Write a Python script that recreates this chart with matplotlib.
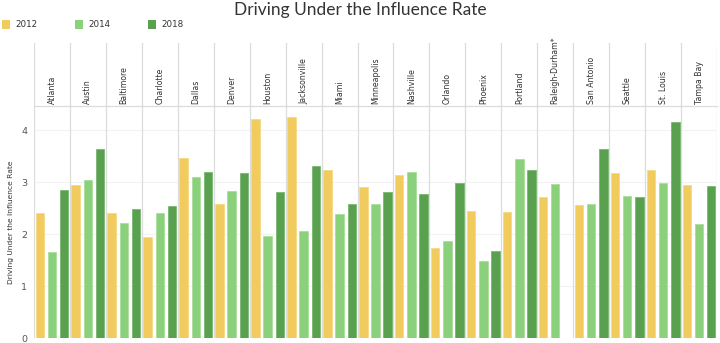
import matplotlib
matplotlib.use("Agg")
import matplotlib.pyplot as plt
import numpy as np

cities = ["Atlanta", "Austin", "Baltimore", "Charlotte", "Dallas", "Denver",
          "Houston", "Jacksonville", "Miami", "Minneapolis", "Nashville",
          "Orlando", "Phoenix", "Portland", "Raleigh-Durham*", "San Antonio",
          "Seattle", "St. Louis", "Tampa Bay"]
years = ["2012", "2014", "2018"]
rate_2012 = [2.40, 2.95, 2.40, 1.94, 3.47, 2.58, 4.22, 4.26, 3.24, 2.90,
             3.14, 1.73, 2.45, 2.42, 2.71, 2.56, 3.17, 3.24, 2.95]
rate_2014 = [1.66, 3.05, 2.21, 2.40, 3.10, 2.83, 1.96, 2.06, 2.38, 2.58,
             3.20, 1.86, 1.48, 3.44, 2.97, 2.58, 2.73, 2.98, 2.20]
rate_2018 = [2.85, 3.64, 2.49, 2.55, 3.19, 3.17, 2.81, 3.31, 2.59, 2.81,
             2.77, 2.98, 1.68, 3.23, np.nan, 3.65, 2.71, 4.16, 2.92]
yticks = [0, 1, 2, 3, 4]

colors = ["#F1CB5E", "#8BD17C", "#59A14F"]
edges = ["#F6DA86", "#A9DE9C", "#7AB672"]
series = [rate_2012, rate_2014, rate_2018]

W, H = 720, 343
fig = plt.figure(figsize=(W / 100, H / 100), dpi=100)
fig.patch.set_facecolor("white")

def box(x0, y0, x1, y1):
    return [x0 / W, 1 - y1 / H, (x1 - x0) / W, (y1 - y0) / H]

left, right = 34, 717
top_hdr, top_plot, bottom = 43, 106, 338
n = len(cities)
sep_color = "#DCDCDC"

# Header row with rotated city names
hdr = fig.add_axes(box(left, top_hdr, right, top_plot))
hdr.set_xlim(0, n)
hdr.set_ylim(0, 1)
hdr.axis("off")
for i in range(n + 1):
    hdr.axvline(i, color=sep_color, lw=0.9)
for i, c in enumerate(cities):
    hdr.text(i + 0.5, 0.03, c, rotation=90, ha="center", va="bottom",
             fontsize=5.6, color="#333333")

# Bars
ax = fig.add_axes(box(left, top_plot, right, bottom))
x = np.arange(n) + 0.5
offsets = [-0.34, 0.0, 0.34]
for vals, off, col, ec in zip(series, offsets, colors, edges):
    ax.bar(x + off, vals, width=0.235, color=col, edgecolor=ec,
           linewidth=0.6, zorder=3)
ax.set_xlim(0, n)
ax.set_ylim(0, (bottom - top_plot) / 51.9)
for i in range(n + 1):
    ax.axvline(i, color=sep_color, lw=0.9, zorder=1)
for t in yticks[1:]:
    ax.axhline(t, color="#F2F2F2", lw=0.8, zorder=0)
ax.set_xticks([])
ax.set_yticks(yticks)
ax.set_yticklabels([str(t) for t in yticks], fontsize=6.8, color="#555555")
ax.tick_params(axis="y", length=0, pad=5)
for s in ax.spines.values():
    s.set_visible(False)

fig.text(11 / W, 1 - 222 / H, "Driving Under the Influence Rate",
         rotation=90, ha="center", va="center", fontsize=5.4,
         color="#333333")

# Top border of the plot pane
fig.add_artist(plt.Line2D([left / W, right / W],
                          [1 - top_plot / H, 1 - top_plot / H],
                          color=sep_color, lw=0.9))

# Title
fig.text(360 / W, 1 - 10 / H, "Driving Under the Influence Rate",
         ha="center", va="center", fontsize=12.5, color="#333333",
         family="Lato")

# Legend
for lx, col, lab in zip([2, 75, 148], colors, years):
    fig.patches.append(plt.Rectangle((lx / W, 1 - 28.5 / H), 8 / W, 8 / H,
                                     transform=fig.transFigure,
                                     facecolor=col, edgecolor="none"))
    fig.text((lx + 13) / W, 1 - 24.5 / H, lab, ha="left", va="center",
             fontsize=6.3, color="#333333")

fig.savefig("out.png", dpi=100, facecolor="white")
